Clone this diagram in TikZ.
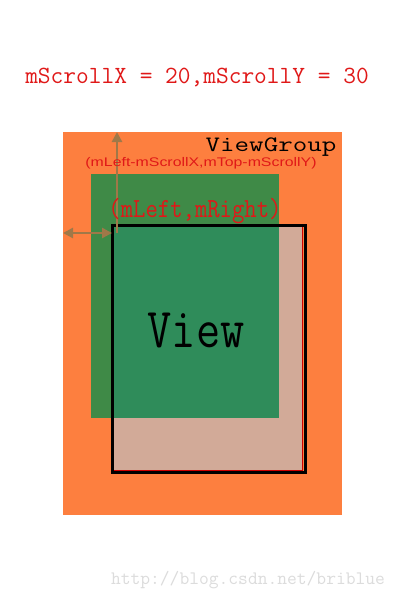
\documentclass[tikz,border=0pt]{standalone}
\usepackage{fontspec}
\setsansfont{Liberation Sans}
\usetikzlibrary{arrows.meta}
\definecolor{vgorange}{HTML}{FD7F3F}
\definecolor{darkgreen}{HTML}{3F8A47}
\definecolor{overgreen}{HTML}{2F8C5A}
\definecolor{viewpink}{HTML}{D2AA98}
\definecolor{arrowbrown}{HTML}{A07848}
\definecolor{labelred}{HTML}{E01818}
\definecolor{marklight}{HTML}{DCDCDC}
\tikzset{
  monotext/.style={font=\ttfamily, inner sep=0pt, anchor=center},
  axisarrow/.style={draw=arrowbrown, line width=2.6pt, -{Triangle[length=10pt,width=10pt]}},
  axisboth/.style={draw=arrowbrown, line width=2.6pt, {Triangle[length=10pt,width=10pt]}-{Triangle[length=10pt,width=10pt]}},
}
\begin{document}
\begin{tikzpicture}[x=1pt,y=-1pt]
\useasboundingbox (0,0) rectangle (400,600);
\fill[white] (0,0) rectangle (400,600);
% ViewGroup background
\fill[vgorange] (63,132) rectangle (342,515);
% view at its own position
\filldraw[fill=viewpink, draw=red!80!black, line width=1pt] (113,226) rectangle (302,470);
% scrolled content (green)
\fill[darkgreen] (91,174) rectangle (279,418);
\fill[overgreen] (113,226) rectangle (279,418);
% view outline
\draw[black, line width=3pt] (112,225) rectangle (305,472);
% arrows
\coordinate (org) at (117,233);
\coordinate (ytip) at (117,132);
\coordinate (xtip) at (63,233);
\coordinate (xend) at (112,233);
\draw[axisarrow] (org) -- (ytip);
\draw[axisboth] (xtip) -- (xend);
% texts
\node[monotext, text=labelred, font=\ttfamily\fontsize{24.7}{26}\selectfont] (title) at (197,78) {mScrollX = 20,mScrollY = 30};
\node[monotext, text=black, xscale=1.28, font=\ttfamily\fontsize{22}{24}\selectfont] (vg) at (271,147) {ViewGroup};
\node[inner sep=0pt, text=labelred, xscale=1.27, font=\sffamily\fontsize{12.5}{14}\selectfont] (sub) at (201,163) {(mLeft-mScrollX,mTop-mScrollY)};
\node[monotext, text=labelred, yscale=1.15, font=\ttfamily\fontsize{24}{26}\selectfont] (pos) at (195,211) {(mLeft,mRight)};
\node[monotext, text=black, yscale=1.2, font=\ttfamily\fontsize{47}{50}\selectfont] (view) at (196,331) {View};
\node[monotext, text=marklight, font=\ttfamily\fontsize{19}{21}\selectfont] (mark) at (248,580) {http://blog.csdn.net/briblue};
\end{tikzpicture}
\end{document}
